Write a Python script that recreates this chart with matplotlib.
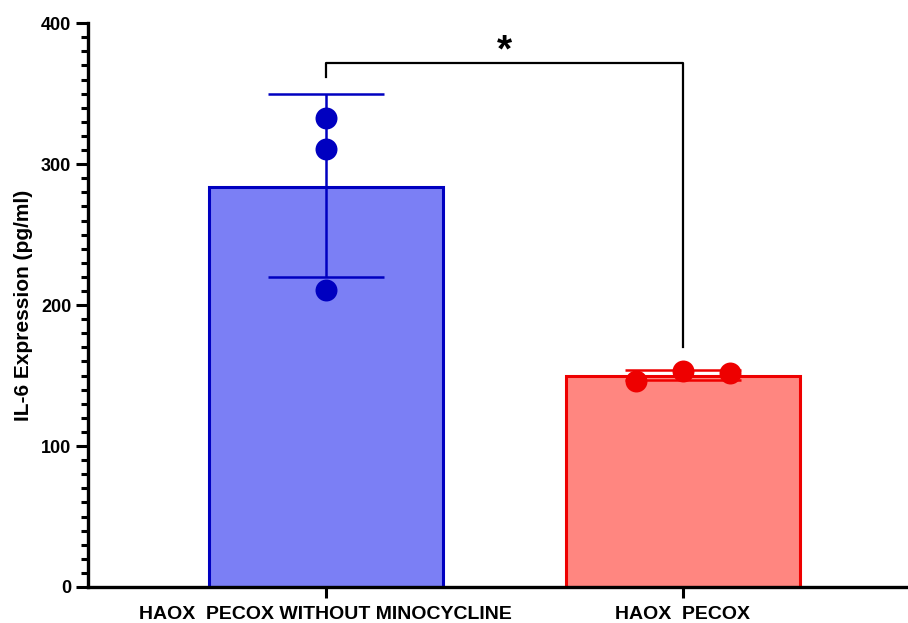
import matplotlib
matplotlib.use("Agg")
import matplotlib.pyplot as plt
import numpy as np

categories = ["HAOX  PECOX WITHOUT MINOCYCLINE", "HAOX  PECOX"]
points = [[333, 311, 211], [146, 153, 152]]
means = [284, 150]
sd_low = [220, 147]
sd_high = [350, 154]
bar_colors = ["#7b7ff5", "#ff8680"]
edge_colors = ["#0000c0", "#ee0000"]
y_label = "IL-6 Expression (pg/ml)"
sig_text = "*"
sig_y = 372
sig_drop = [362, 170]

plt.rcParams['font.family'] = ['Liberation Sans', 'DejaVu Sans']

fig = plt.figure(figsize=(9.08, 6.23), dpi=100)
ax = fig.add_axes([0.0969, 0.0578, 0.903, 0.905])

x = np.arange(len(categories))
ax.bar(x, means, width=0.657, color=bar_colors, edgecolor=edge_colors, linewidth=2.2, zorder=1)
for i in range(len(categories)):
    ax.errorbar(x[i], means[i], yerr=[[means[i] - sd_low[i]], [sd_high[i] - means[i]]],
                fmt='none', ecolor=edge_colors[i], elinewidth=1.8, capsize=42, capthick=1.8, zorder=2)
    n = len(points[i])
    offs = np.array([0.0, 0.0, 0.0]) if i == 0 else np.array([-0.132, 0.0, 0.132])
    ax.scatter(x[i] + offs[:n], points[i], s=250, color=edge_colors[i], zorder=3, linewidths=0)

# significance bracket
ax.plot([x[0], x[0], x[1], x[1]], [sig_drop[0], sig_y, sig_y, sig_drop[1]], color='black', lw=1.6, zorder=4)
ax.text((x[0] + x[1]) / 2, sig_y - 5, sig_text, ha='center', va='bottom', fontsize=28, fontweight='bold')

ax.set_xlim(-0.666, 1.63)
ax.set_ylim(0, 400)
ax.set_yticks([0, 100, 200, 300, 400])
ax.set_yticks(np.arange(0, 401, 10), minor=True)
ax.set_xticks(x)
ax.set_xticklabels(categories, fontsize=14, fontweight='bold')
ax.tick_params(axis='y', which='major', length=9, width=2.2, labelsize=13, pad=3)
ax.tick_params(axis='y', which='minor', length=5, width=2.2)
ax.tick_params(axis='x', which='major', length=8, width=2.2, pad=6)
for lbl in ax.get_yticklabels():
    lbl.set_fontweight('bold')
ax.set_ylabel(y_label, fontsize=15, fontweight='bold', labelpad=6)

for s in ['top', 'right']:
    ax.spines[s].set_visible(False)
for s in ['left', 'bottom']:
    ax.spines[s].set_linewidth(2.4)

fig.savefig("out.png", dpi=100)
